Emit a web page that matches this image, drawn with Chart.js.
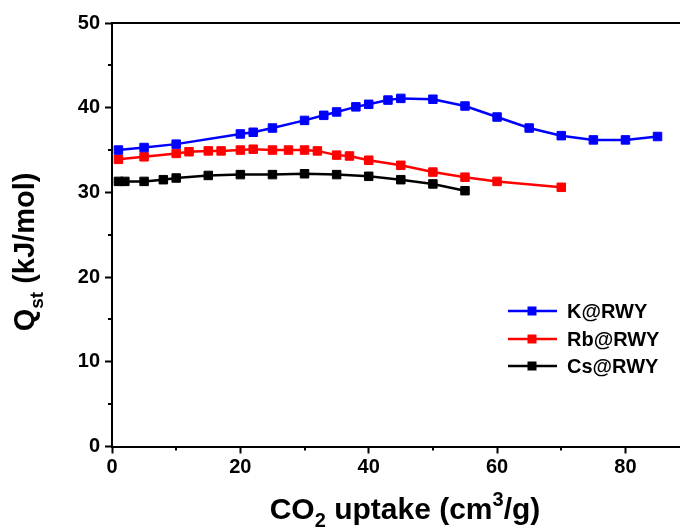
<!DOCTYPE html>
<html>
<head>
<meta charset="utf-8">
<script src="https://cdn.jsdelivr.net/npm/chart.js@4/dist/chart.umd.min.js"></script>
<style>
  html, body { margin: 0; padding: 0; background: #fff; overflow: hidden; }
  #wrap { width: 680px; height: 529px; overflow: hidden; }
</style>
</head>
<body>
<div id="wrap"><canvas id="c" width="687" height="529"></canvas></div>
<script>
// Isosteric heat of adsorption vs CO2 uptake
const kUptake  = [1, 5, 10, 20, 22, 25, 30, 33, 35, 38, 40, 43, 45, 50, 55, 60, 65, 70, 75, 80, 85];
const kQst     = [35.0, 35.3, 35.7, 36.9, 37.1, 37.6, 38.5, 39.1, 39.5, 40.1, 40.4, 40.9, 41.1, 41.0, 40.2, 38.9, 37.6, 36.7, 36.2, 36.2, 36.6];

const rbUptake = [1, 5, 10, 12, 15, 17, 20, 22, 25, 27.5, 30, 32, 35, 37, 40, 45, 50, 55, 60, 70];
const rbQst    = [33.9, 34.2, 34.6, 34.8, 34.9, 34.9, 35.0, 35.1, 35.0, 35.0, 35.0, 34.9, 34.4, 34.3, 33.8, 33.2, 32.4, 31.8, 31.3, 30.6];

const csUptake = [1, 2, 5, 8, 10, 15, 20, 25, 30, 35, 40, 45, 50, 55];
const csQst    = [31.3, 31.3, 31.3, 31.5, 31.7, 32.0, 32.1, 32.1, 32.2, 32.1, 31.9, 31.5, 31.0, 30.2];

const seriesNames = ['K@RWY', 'Rb@RWY', 'Cs@RWY'];
const seriesColors = ['#0000ff', '#ff0000', '#000000'];

const xMajor = 20, xMinorStep = 10, xMin = 0, xMax = 88.5;
const yMajor = 10, yMinorStep = 5, yMin = 0, yMax = 50;

const FONT = '"Liberation Sans", Arial, sans-serif';

function pts(xs, ys) { return xs.map((v, i) => ({ x: v, y: ys[i] })); }

function makeSet(i, xs, ys) {
  return {
    label: seriesNames[i],
    data: pts(xs, ys),
    borderColor: seriesColors[i],
    backgroundColor: seriesColors[i],
    borderWidth: 2.5,
    pointStyle: 'rect',
    pointRadius: 6,
    pointBorderWidth: 1,
    pointHoverRadius: 6,
    tension: 0
  };
}

// draw a run of text pieces with sub/superscripts, centred on (cx, cy)
function richText(ctx, parts, size, cx, cy, rot) {
  ctx.save();
  ctx.translate(cx, cy);
  ctx.rotate(rot || 0);
  ctx.fillStyle = '#000';
  ctx.textBaseline = 'alphabetic';
  ctx.textAlign = 'left';
  const small = Math.round(size * 0.66);
  let total = 0;
  const widths = parts.map(p => {
    ctx.font = 'bold ' + (p.s ? small : size) + 'px ' + FONT;
    const w = ctx.measureText(p.t).width;
    total += w;
    return w;
  });
  let x = -total / 2;
  parts.forEach((p, i) => {
    ctx.font = 'bold ' + (p.s ? small : size) + 'px ' + FONT;
    const dy = p.s === 'sub' ? size * 0.28 : p.s === 'sup' ? -size * 0.42 : 0;
    ctx.fillText(p.t, x, size * 0.36 + dy);
    x += widths[i];
  });
  ctx.restore();
}

const decor = {
  id: 'decor',
  afterDraw(chart) {
    const { ctx, chartArea: a, scales: { x, y } } = chart;
    ctx.save();
    ctx.strokeStyle = '#000';
    ctx.lineWidth = 2;
    ctx.beginPath();
    // top frame line
    ctx.moveTo(a.left, a.top);
    ctx.lineTo(a.right, a.top);
    // minor ticks
    for (let v = xMin + xMinorStep; v <= xMax; v += xMajor) {
      const px = Math.round(x.getPixelForValue(v));
      ctx.moveTo(px, a.bottom);
      ctx.lineTo(px, a.bottom + 4);
    }
    for (let v = yMin + yMinorStep; v <= yMax; v += yMajor) {
      const py = Math.round(y.getPixelForValue(v));
      ctx.moveTo(a.left, py);
      ctx.lineTo(a.left - 4, py);
    }
    ctx.stroke();
    ctx.restore();

    // axis titles
    richText(ctx, [{ t: 'CO' }, { t: '2', s: 'sub' }, { t: ' uptake (cm' }, { t: '3', s: 'sup' }, { t: '/g)' }],
      30, 405, 508, 0);
    richText(ctx, [{ t: 'Q' }, { t: 'st', s: 'sub' }, { t: ' (kJ/mol)' }],
      29, 24, 252, -Math.PI / 2);

    // legend: line - marker - line
    const rows = [311, 339, 366];
    chart.data.datasets.forEach((ds, i) => {
      const cy = rows[i];
      ctx.save();
      ctx.strokeStyle = ds.borderColor;
      ctx.fillStyle = ds.borderColor;
      ctx.lineWidth = 2.5;
      ctx.beginPath();
      ctx.moveTo(508, cy);
      ctx.lineTo(557, cy);
      ctx.stroke();
      ctx.fillRect(532 - 4.5, cy - 4.5, 9, 9);
      ctx.fillStyle = '#000';
      ctx.font = 'bold 20px ' + FONT;
      ctx.textBaseline = 'middle';
      ctx.textAlign = 'left';
      ctx.fillText(ds.label, 567, cy + 1);
      ctx.restore();
    });
  }
};

new Chart(document.getElementById('c'), {
  type: 'line',
  data: {
    datasets: [
      makeSet(0, kUptake, kQst),
      makeSet(1, rbUptake, rbQst),
      makeSet(2, csUptake, csQst)
    ]
  },
  options: {
    responsive: false,
    devicePixelRatio: 1,
    animation: false,
    layout: { padding: { top: 23, right: 0, left: 0, bottom: 0 } },
    plugins: { legend: { display: false }, tooltip: { enabled: false } },
    scales: {
      x: {
        type: 'linear',
        min: xMin, max: xMax,
        afterFit: s => { s.height = 82.5; s.paddingRight = 0; s.paddingLeft = 0; },
        border: { color: '#000', width: 2 },
        grid: { drawOnChartArea: false, drawTicks: true, tickLength: 7, tickWidth: 2, tickColor: '#000' },
        ticks: { stepSize: xMajor, includeBounds: false, color: '#000', padding: 2,
                 font: { family: FONT, size: 20, weight: 'bold' } }
      },
      y: {
        min: yMin, max: yMax,
        afterFit: s => { s.width = 112; },
        border: { color: '#000', width: 2 },
        grid: { drawOnChartArea: false, drawTicks: true, tickLength: 7, tickWidth: 2, tickColor: '#000' },
        ticks: { stepSize: yMajor, color: '#000', padding: 5,
                 font: { family: FONT, size: 20, weight: 'bold' } }
      }
    }
  },
  plugins: [decor]
});
</script>
</body>
</html>
